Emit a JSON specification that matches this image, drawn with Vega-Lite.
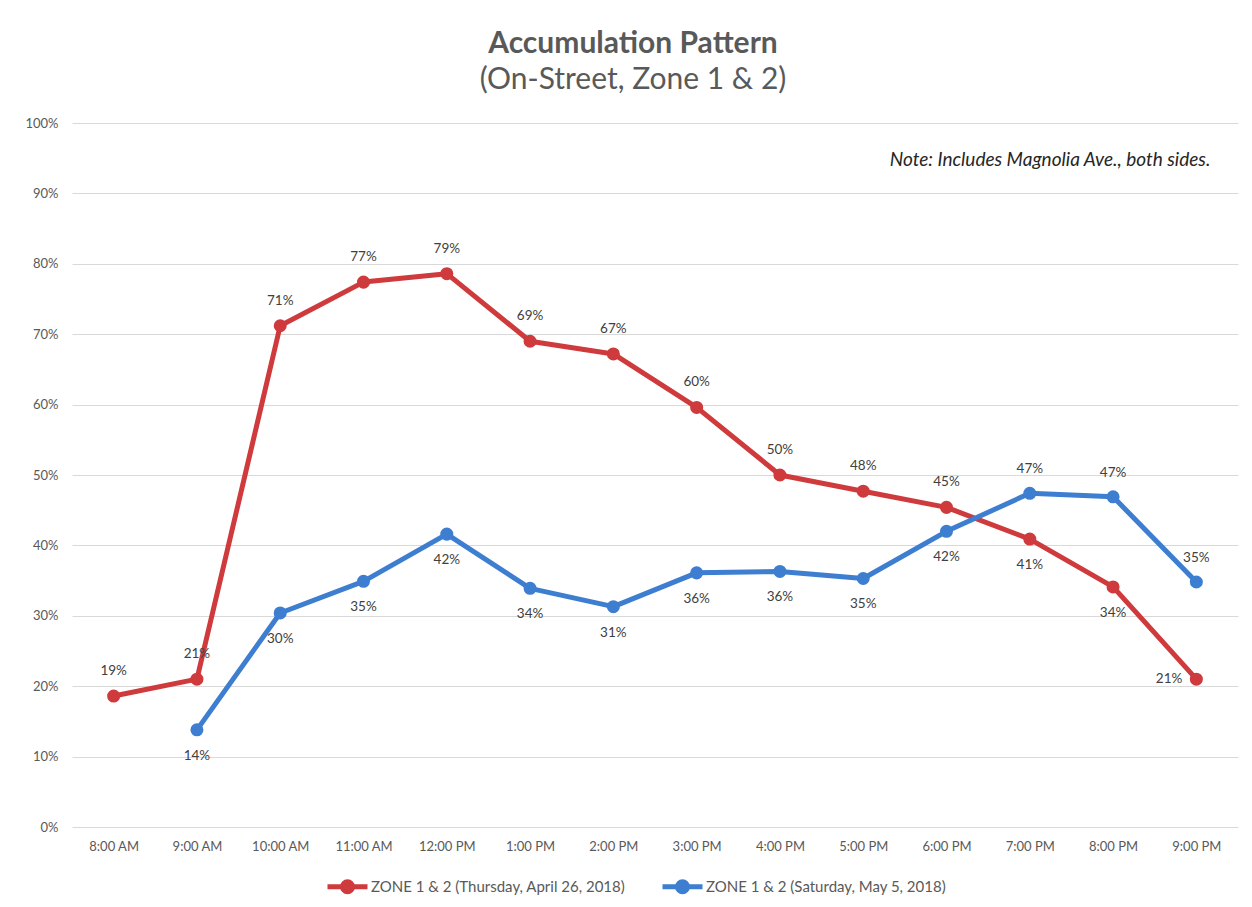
{
  "$schema": "https://vega.github.io/schema/vega-lite/v6.json",
  "autosize": {"type": "none"},
  "width": 1166,
  "height": 704,
  "padding": {"left": 72, "top": 123, "right": 14, "bottom": 80},
  "background": "white",
  "config": {
    "font": "Lato",
    "view": {"stroke": null}
  },
  "title": {
    "text": "Accumulation Pattern",
    "subtitle": "(On-Street, Zone 1 & 2)",
    "anchor": "middle",
    "dx": -22,
    "offset": 22,
    "font": "Lato",
    "fontSize": 30,
    "fontWeight": "bold",
    "color": "#595959",
    "subtitleFont": "Lato",
    "subtitleFontSize": 30,
    "subtitleColor": "#595959",
    "subtitlePadding": 6
  },
  "datasets": {
    "occ": [
      {"time": "8:00 AM", "series": "ZONE 1 & 2 (Thursday, April 26, 2018)", "v": 0.186},
      {"time": "9:00 AM", "series": "ZONE 1 & 2 (Thursday, April 26, 2018)", "v": 0.21},
      {"time": "10:00 AM", "series": "ZONE 1 & 2 (Thursday, April 26, 2018)", "v": 0.712},
      {"time": "11:00 AM", "series": "ZONE 1 & 2 (Thursday, April 26, 2018)", "v": 0.774},
      {"time": "12:00 PM", "series": "ZONE 1 & 2 (Thursday, April 26, 2018)", "v": 0.786},
      {"time": "1:00 PM", "series": "ZONE 1 & 2 (Thursday, April 26, 2018)", "v": 0.69},
      {"time": "2:00 PM", "series": "ZONE 1 & 2 (Thursday, April 26, 2018)", "v": 0.672},
      {"time": "3:00 PM", "series": "ZONE 1 & 2 (Thursday, April 26, 2018)", "v": 0.596},
      {"time": "4:00 PM", "series": "ZONE 1 & 2 (Thursday, April 26, 2018)", "v": 0.50},
      {"time": "5:00 PM", "series": "ZONE 1 & 2 (Thursday, April 26, 2018)", "v": 0.477},
      {"time": "6:00 PM", "series": "ZONE 1 & 2 (Thursday, April 26, 2018)", "v": 0.454},
      {"time": "7:00 PM", "series": "ZONE 1 & 2 (Thursday, April 26, 2018)", "v": 0.409},
      {"time": "8:00 PM", "series": "ZONE 1 & 2 (Thursday, April 26, 2018)", "v": 0.341},
      {"time": "9:00 PM", "series": "ZONE 1 & 2 (Thursday, April 26, 2018)", "v": 0.21},
      {"time": "9:00 AM", "series": "ZONE 1 & 2 (Saturday, May 5, 2018)", "v": 0.138},
      {"time": "10:00 AM", "series": "ZONE 1 & 2 (Saturday, May 5, 2018)", "v": 0.304},
      {"time": "11:00 AM", "series": "ZONE 1 & 2 (Saturday, May 5, 2018)", "v": 0.349},
      {"time": "12:00 PM", "series": "ZONE 1 & 2 (Saturday, May 5, 2018)", "v": 0.416},
      {"time": "1:00 PM", "series": "ZONE 1 & 2 (Saturday, May 5, 2018)", "v": 0.339},
      {"time": "2:00 PM", "series": "ZONE 1 & 2 (Saturday, May 5, 2018)", "v": 0.313},
      {"time": "3:00 PM", "series": "ZONE 1 & 2 (Saturday, May 5, 2018)", "v": 0.361},
      {"time": "4:00 PM", "series": "ZONE 1 & 2 (Saturday, May 5, 2018)", "v": 0.363},
      {"time": "5:00 PM", "series": "ZONE 1 & 2 (Saturday, May 5, 2018)", "v": 0.353},
      {"time": "6:00 PM", "series": "ZONE 1 & 2 (Saturday, May 5, 2018)", "v": 0.42},
      {"time": "7:00 PM", "series": "ZONE 1 & 2 (Saturday, May 5, 2018)", "v": 0.474},
      {"time": "8:00 PM", "series": "ZONE 1 & 2 (Saturday, May 5, 2018)", "v": 0.469},
      {"time": "9:00 PM", "series": "ZONE 1 & 2 (Saturday, May 5, 2018)", "v": 0.348}
    ],
    "note": [
      {"time": "9:00 PM", "v": 0.947, "note": "Note:  Includes Magnolia Ave., both sides."}
    ]
  },
  "layer": [
    {
      "data": {"name": "occ"},
      "encoding": {
        "x": {
          "field": "time",
          "type": "nominal",
          "scale": {
            "type": "point",
            "padding": 0.5,
            "domain": ["8:00 AM", "9:00 AM", "10:00 AM", "11:00 AM", "12:00 PM", "1:00 PM", "2:00 PM", "3:00 PM", "4:00 PM", "5:00 PM", "6:00 PM", "7:00 PM", "8:00 PM", "9:00 PM"]
          },
          "axis": {
            "title": null,
            "labelAngle": 0,
            "labelFont": "Lato",
            "labelFontSize": 13,
            "labelColor": "#595959",
            "labelPadding": 13,
            "ticks": false,
            "domain": false,
            "grid": false
          }
        },
        "y": {
          "field": "v",
          "type": "quantitative",
          "scale": {"domain": [0, 1], "nice": false},
          "axis": {
            "title": null,
            "values": [0, 0.1, 0.2, 0.3, 0.4, 0.5, 0.6, 0.7, 0.8, 0.9, 1],
            "format": ".0%",
            "labelFont": "Lato",
            "labelFontSize": 13,
            "labelColor": "#595959",
            "labelPadding": 14,
            "ticks": false,
            "domain": false,
            "grid": true,
            "gridColor": "#d9d9d9",
            "gridWidth": 1
          }
        },
        "color": {
          "field": "series",
          "type": "nominal",
          "scale": {
            "domain": ["ZONE 1 & 2 (Thursday, April 26, 2018)", "ZONE 1 & 2 (Saturday, May 5, 2018)"],
            "range": ["#cf3a3c", "#3d7ed0"]
          },
          "legend": {
            "title": null,
            "orient": "none",
            "direction": "horizontal",
            "legendX": 253,
            "legendY": 741,
            "symbolType": "M-1,0H1M-0.25,0a0.25,0.25 0 1,0 0.5,0a0.25,0.25 0 1,0 -0.5,0",
            "symbolSize": 1600,
            "symbolStrokeWidth": 5,
            "labelFont": "Lato",
            "labelFontSize": 15,
            "labelColor": "#595959",
            "labelOffset": 1,
            "columnPadding": 26,
            "labelLimit": 400,
            "encode": {
              "symbols": {"update": {"fill": {"scale": "color", "field": "value"}, "stroke": {"scale": "color", "field": "value"}, "opacity": {"value": 1}}}
            }
          }
        }
      },
      "layer": [
        {
          "mark": {"type": "line", "strokeWidth": 5, "strokeCap": "round", "strokeJoin": "round"}
        },
        {
          "mark": {"type": "point", "filled": true, "size": 170, "opacity": 1}
        },
        {
          "transform": [
            {"filter": "datum.series == 'ZONE 1 & 2 (Thursday, April 26, 2018)' && indexof(['7:00 PM','8:00 PM','9:00 PM'], datum.time) < 0"}
          ],
          "mark": {"type": "text", "dy": -25, "fontSize": 13.5, "font": "Lato"},
          "encoding": {"text": {"field": "v", "type": "quantitative", "format": ".0%"}, "color": {"value": "#404040"}}
        },
        {
          "transform": [
            {"filter": "datum.series == 'ZONE 1 & 2 (Thursday, April 26, 2018)' && indexof(['7:00 PM','8:00 PM'], datum.time) >= 0"}
          ],
          "mark": {"type": "text", "dy": 26, "fontSize": 13.5, "font": "Lato"},
          "encoding": {"text": {"field": "v", "type": "quantitative", "format": ".0%"}, "color": {"value": "#404040"}}
        },
        {
          "transform": [
            {"filter": "datum.series == 'ZONE 1 & 2 (Thursday, April 26, 2018)' && datum.time == '9:00 PM'"}
          ],
          "mark": {"type": "text", "dx": -14, "align": "right", "fontSize": 13.5, "font": "Lato"},
          "encoding": {"text": {"field": "v", "type": "quantitative", "format": ".0%"}, "color": {"value": "#404040"}}
        },
        {
          "transform": [
            {"filter": "datum.series == 'ZONE 1 & 2 (Saturday, May 5, 2018)' && indexof(['7:00 PM','8:00 PM','9:00 PM'], datum.time) < 0"}
          ],
          "mark": {"type": "text", "dy": 26, "fontSize": 13.5, "font": "Lato"},
          "encoding": {"text": {"field": "v", "type": "quantitative", "format": ".0%"}, "color": {"value": "#404040"}}
        },
        {
          "transform": [
            {"filter": "datum.series == 'ZONE 1 & 2 (Saturday, May 5, 2018)' && indexof(['7:00 PM','8:00 PM','9:00 PM'], datum.time) >= 0"}
          ],
          "mark": {"type": "text", "dy": -24, "fontSize": 13.5, "font": "Lato"},
          "encoding": {"text": {"field": "v", "type": "quantitative", "format": ".0%"}, "color": {"value": "#404040"}}
        }
      ]
    },
    {
      "data": {"name": "note"},
      "mark": {"type": "text", "align": "right", "dx": 14, "fontSize": 19, "font": "Lato", "fontStyle": "italic", "color": "#262626"},
      "encoding": {
        "x": {"field": "time", "type": "nominal"},
        "y": {"field": "v", "type": "quantitative"},
        "text": {"field": "note", "type": "nominal"}
      }
    }
  ]
}
